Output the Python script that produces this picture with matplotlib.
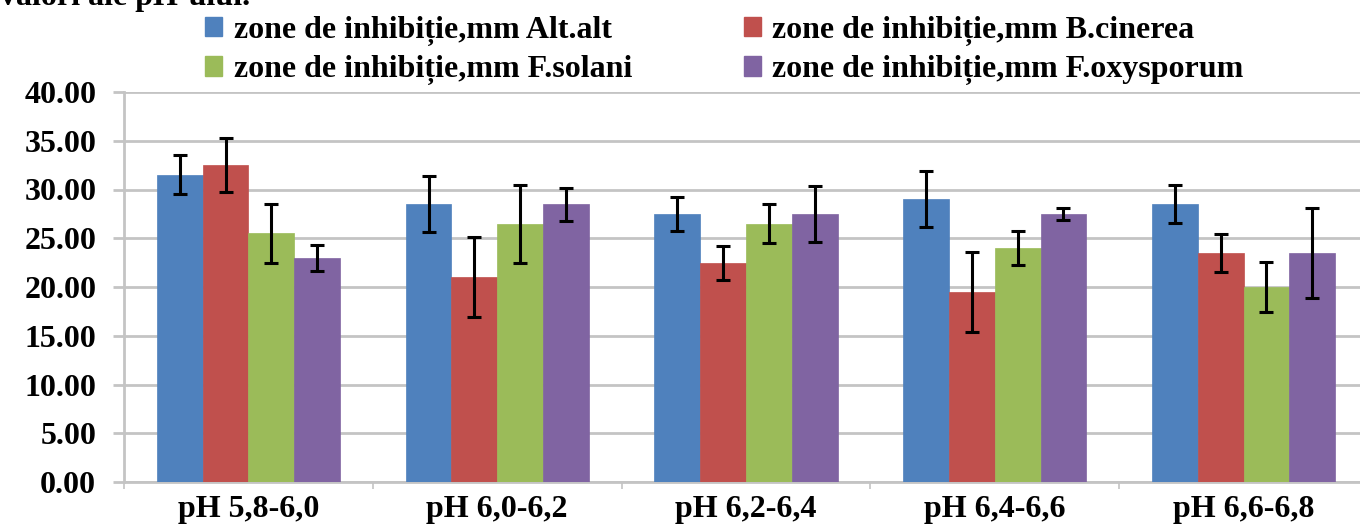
import matplotlib
matplotlib.use("Agg")
import matplotlib.pyplot as plt
import numpy as np
from matplotlib.patches import Patch

categories = ["pH 5,8-6,0", "pH 6,0-6,2", "pH 6,2-6,4", "pH 6,4-6,6", "pH 6,6-6,8"]
series_names = [
    "zone de inhibiție,mm Alt.alt",
    "zone de inhibiție,mm B.cinerea",
    "zone de inhibiție,mm F.solani",
    "zone de inhibiție,mm F.oxysporum",
]
alt_alt = [31.5, 28.5, 27.5, 29.0, 28.5]
b_cinerea = [32.5, 21.0, 22.5, 19.5, 23.5]
f_solani = [25.5, 26.5, 26.5, 24.0, 20.0]
f_oxysporum = [23.0, 28.5, 27.5, 27.5, 23.5]
err_alt_alt = [2.0, 2.9, 1.75, 2.85, 1.95]
err_b_cinerea = [2.8, 4.1, 1.75, 4.1, 1.95]
err_f_solani = [3.0, 4.0, 2.0, 1.7, 2.6]
err_f_oxysporum = [1.35, 1.7, 2.85, 0.65, 4.6]
yticks = [0, 5, 10, 15, 20, 25, 30, 35, 40]
title_text = "valori ale pH-ului."

values = [alt_alt, b_cinerea, f_solani, f_oxysporum]
errors = [err_alt_alt, err_b_cinerea, err_f_solani, err_f_oxysporum]
colors = ["#4F81BD", "#C0504D", "#9BBB59", "#8064A2"]

plt.rcParams["font.family"] = ["Liberation Serif", "DejaVu Serif"]
plt.rcParams["font.weight"] = "bold"
FS = 23

W, H = 1360, 527
fig = plt.figure(figsize=(W / 100, H / 100), dpi=100)
ax = fig.add_axes([124 / W, (H - 482) / H, 1244 / W, 390 / H])

x = np.arange(len(categories))
bw = 0.184
for i, (vals, errs, c) in enumerate(zip(values, errors, colors)):
    pos = x + (i - 1.5) * bw
    ax.bar(pos, vals, width=bw, color=c, edgecolor=c, linewidth=0.5, zorder=3)
    ax.errorbar(pos, vals, yerr=errs, fmt="none", ecolor="black",
                elinewidth=2.2, capsize=5, capthick=2.2, zorder=4)

ax.set_xlim(-0.5, len(categories) - 0.5)
ax.set_ylim(0, 40)
ax.set_yticks(yticks)
ax.set_yticklabels([f"{v:.2f}" for v in yticks], fontsize=FS, fontweight="bold")
ax.yaxis.grid(True, color="#C4C4C4", linewidth=2, zorder=0)
ax.set_axisbelow(True)

ax.set_xticks(x)
ax.set_xticklabels(categories, fontsize=FS, fontweight="bold")
ax.tick_params(axis="x", length=0, pad=9)
ax.set_xticks(np.arange(len(categories) + 1) - 0.5, minor=True)
ax.tick_params(axis="x", which="minor", length=5, width=1.2, color="#C4C4C4", direction="out")
ax.tick_params(axis="y", length=8, width=2, color="#C4C4C4", pad=12)

for s in ["top", "right"]:
    ax.spines[s].set_visible(False)
ax.spines["left"].set_color("#C4C4C4")
ax.spines["left"].set_linewidth(2)
ax.spines["bottom"].set_color("#C4C4C4")
ax.spines["bottom"].set_linewidth(2)

handles = [Patch(facecolor=c, edgecolor=c) for c in colors]
order = [0, 2, 1, 3]
fig.legend([handles[k] for k in order], [series_names[k] for k in order],
           ncol=2, loc="upper left", bbox_to_anchor=(192 / W, 1 - 3 / H),
           frameon=False, prop={"family": "Liberation Serif", "weight": "bold", "size": FS},
           handlelength=0.55, handleheight=0.55, handletextpad=0.35,
           columnspacing=3.5, labelspacing=0.3, borderaxespad=0)

fig.text(0.0, 1.0 - 5 / H, title_text, fontsize=FS, fontweight="bold",
         va="baseline", ha="left")

fig.savefig("out.png", dpi=100)
